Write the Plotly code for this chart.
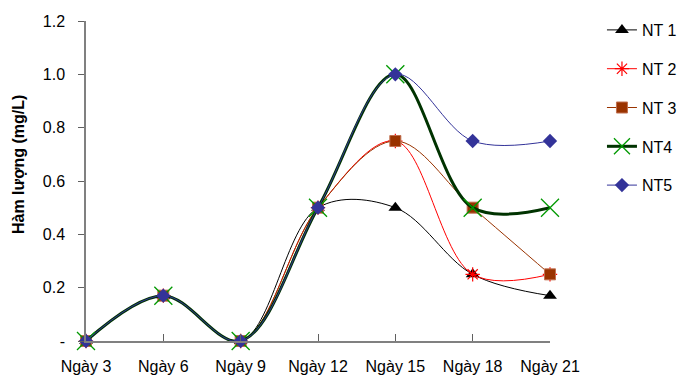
import plotly.graph_objects as go

categories = ["Ngày 3", "Ngày 6", "Ngày 9", "Ngày 12", "Ngày 15", "Ngày 18", "Ngày 21"]
nt1 = [0, 0.17, 0, 0.5, 0.5, 0.25, 0.17]
nt2 = [0, 0.17, 0, 0.5, 0.75, 0.25, 0.25]
nt3 = [0, 0.17, 0, 0.5, 0.75, 0.5, 0.25]
nt4 = [0, 0.17, 0, 0.5, 1.0, 0.5, 0.5]
nt5 = [0, 0.17, 0, 0.5, 1.0, 0.75, 0.75]
ytick_vals = [0, 0.2, 0.4, 0.6, 0.8, 1.0, 1.2]
ytick_text = ["-", "0.2", "0.4", "0.6", "0.8", "1.0", "1.2"]

FONT = "Liberation Sans, Arial, sans-serif"

series = [
    ("NT 1", nt1, dict(color="#000000", width=1), dict(symbol="triangle-up", size=12, color="#000000")),
    ("NT 2", nt2, dict(color="#FF0000", width=1), dict(symbol="asterisk-open", size=12, color="#FF0000", line=dict(color="#FF0000", width=1.2))),
    ("NT 3", nt3, dict(color="#993300", width=1), dict(symbol="square", size=11, color="#993300", line=dict(color="#C07050", width=1))),
    ("NT4", nt4, dict(color="#003300", width=3), dict(symbol="x-thin-open", size=18, color="#009900", line=dict(color="#009900", width=1.3))),
    ("NT5", nt5, dict(color="#333399", width=1), dict(symbol="diamond", size=11, color="#333399")),
]

fig = go.Figure()
for i, (name, vals, line, marker) in enumerate(series):
    fig.add_trace(go.Scatter(
        x=categories, y=vals, name=name, mode="lines+markers",
        line=dict(shape="spline", smoothing=1.0, **line),
        marker=marker, cliponaxis=False, legendgroup=f"g{i}",
    ))

fig.update_layout(
    width=686, height=377,
    margin=dict(l=86, r=136, t=21, b=36, autoexpand=False),
    paper_bgcolor="white", plot_bgcolor="white",
    font=dict(family=FONT, size=16, color="#000000"),
    legend=dict(
        x=1.112, y=1.025, xanchor="left", yanchor="top",
        tracegroupgap=15, font=dict(size=16), itemwidth=30,
        bgcolor="rgba(0,0,0,0)", maxheight=340,
    ),
    xaxis=dict(
        type="category", range=[0, 6], showgrid=False, zeroline=False,
        showline=True, linecolor="#808080", linewidth=1.5,
        ticks="inside", ticklen=7, tickcolor="#606060", tickwidth=1.2,
        ticklabelstandoff=10, automargin=False,
    ),
    yaxis=dict(
        range=[0, 1.2], showgrid=False, zeroline=False,
        showline=True, linecolor="#808080", linewidth=1.5,
        ticks="outside", ticklen=6, tickcolor="#606060", tickwidth=1.2,
        tickvals=ytick_vals, ticktext=ytick_text, ticklabelstandoff=10,
        automargin=False,
    ),
    annotations=[dict(
        text="<b>Hàm lượng (mg/L)</b>", textangle=-90,
        xref="paper", yref="paper", x=0, y=0.55,
        xanchor="center", yanchor="middle", xshift=-68,
        showarrow=False, font=dict(size=16, family=FONT),
    )],
)

fig.write_html("out.html")
